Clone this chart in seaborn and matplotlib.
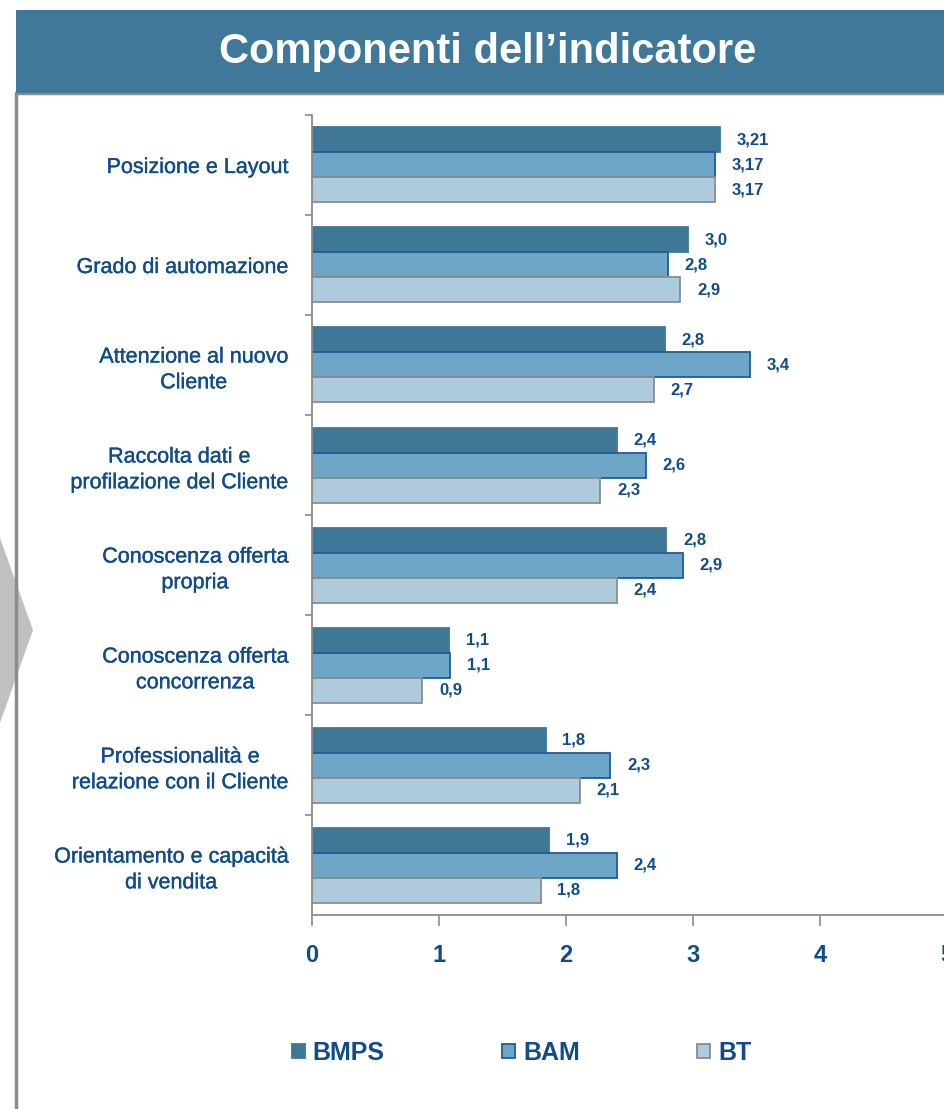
import matplotlib
matplotlib.use("Agg")
import matplotlib.pyplot as plt
from matplotlib.patches import Rectangle, Polygon, Patch
from matplotlib.lines import Line2D
import matplotlib.patheffects as pe
import seaborn as sns
import pandas as pd

# ---- data ----
categories = [
    "Posizione e Layout",
    "Grado di automazione",
    "Attenzione al nuovo\nCliente",
    "Raccolta dati e\nprofilazione del Cliente",
    "Conoscenza offerta\npropria",
    "Conoscenza offerta\nconcorrenza",
    "Professionalità e\nrelazione con il Cliente",
    "Orientamento e capacità\ndi vendita",
]
series_names = ["BMPS", "BAM", "BT"]
bmps = [3.21, 2.96, 2.78, 2.40, 2.79, 1.08, 1.84, 1.87]
bam = [3.17, 2.80, 3.45, 2.63, 2.92, 1.09, 2.35, 2.40]
bt = [3.17, 2.90, 2.69, 2.27, 2.40, 0.87, 2.11, 1.80]
bmps_labels = ["3,21", "3,0", "2,8", "2,4", "2,8", "1,1", "1,8", "1,9"]
bam_labels = ["3,17", "2,8", "3,4", "2,6", "2,9", "1,1", "2,3", "2,4"]
bt_labels = ["3,17", "2,9", "2,7", "2,3", "2,4", "0,9", "2,1", "1,8"]
x_ticks = [0, 1, 2, 3, 4, 5]
title = "Componenti dell’indicatore"

# ---- style ----
sns.set_style("white")
plt.rcParams["font.family"] = ["Liberation Sans", "DejaVu Sans"]

TXT = "#0F4C8C"
GRAY = "#8C8C8C"
fills = ["#3F7797", "#6EA6C7", "#ADCBDD"]
edges = ["#3F7797", "#1F5C94", "#8C8C8C"]

rows = []
for name, vals in zip(series_names, [bmps, bam, bt]):
    for c, v in zip(categories, vals):
        rows.append({"cat": c, "value": v, "bank": name})
df = pd.DataFrame(rows)

W, H = 944, 1109
fig = plt.figure(figsize=(W / 100, H / 100), dpi=100)
fig.patch.set_facecolor("white")

# decorative frame elements
fig.patches.append(Polygon([(0, 1 - 538 / H), (33 / W, 1 - 630 / H), (0, 1 - 723 / H)],
                           closed=True, transform=fig.transFigure, facecolor="#C0C0C0",
                           edgecolor="none", zorder=0))
fig.add_artist(Line2D([16 / W, 16 / W], [0, 1 - 93 / H], transform=fig.transFigure,
                      color=GRAY, lw=2.5, zorder=1))
fig.add_artist(Line2D([16 / W, 1], [1 - 93 / H, 1 - 93 / H], transform=fig.transFigure,
                      color=GRAY, lw=2.5, zorder=1))
fig.patches.append(Rectangle((16 / W, 1 - 93 / H), 1 - 16 / W, 83 / H,
                             transform=fig.transFigure, facecolor="#3F7898",
                             edgecolor="none", zorder=2))
fig.text(488 / W, 1 - 52 / H, title, ha="center", va="center", color="white",
         fontsize=30, fontweight="bold", zorder=3)

ax = fig.add_axes([312 / W, 1 - 915 / H, 635 / W, 800 / H])
sns.barplot(data=df, y="cat", x="value", hue="bank", order=categories,
            hue_order=series_names, palette=fills, orient="h", width=0.75,
            ax=ax, legend=False, saturation=1)

label_sets = [bmps_labels, bam_labels, bt_labels]
for cont, ec, labs in zip(ax.containers, edges, label_sets):
    for bar in cont:
        bar.set_edgecolor(ec)
        bar.set_linewidth(1.3)
    ax.bar_label(cont, labels=labs, padding=12, color=TXT, fontsize=12,
                 fontweight="bold")

ax.set_xlim(0, 5)
ax.set_ylim(len(categories) - 0.5, -0.5)
ax.set_xticks(x_ticks)
ax.set_xticklabels([str(t) for t in x_ticks], fontsize=17, fontweight="bold", color=TXT)
ax.set_xlabel("")
ax.set_ylabel("")
for lab in ax.get_yticklabels():
    lab.set_fontsize(15.5)
    lab.set_color(TXT)
    lab.set_multialignment("center")
    lab.set_linespacing(1.3)
    lab.set_path_effects([pe.withStroke(linewidth=0.25, foreground=TXT)])
ax.set_yticks([i - 0.5 for i in range(len(categories))], minor=True)
ax.tick_params(axis="y", which="major", length=0, pad=17.5)
ax.tick_params(axis="y", which="minor", length=5, color=GRAY, width=1.2, left=True)
ax.tick_params(axis="x", which="major", length=8, color=GRAY, width=1.2, pad=13, bottom=True)
for s in ["top", "right"]:
    ax.spines[s].set_visible(False)
for s in ["left", "bottom"]:
    ax.spines[s].set_color(GRAY)
    ax.spines[s].set_linewidth(1.3)
ax.grid(False)

handles = [Patch(facecolor=f, edgecolor=e, linewidth=1.3) for f, e in zip(fills, edges)]
fig.legend(handles, series_names, loc="center left", bbox_to_anchor=(279 / W, 1 - 1053 / H),
           ncol=3, frameon=False, borderpad=0, handlelength=0.52, handleheight=0.52,
           handletextpad=0.32, columnspacing=4.7,
           prop={"size": 18, "weight": "bold"}, labelcolor=TXT)

fig.savefig("out.png", dpi=100, facecolor="white")
